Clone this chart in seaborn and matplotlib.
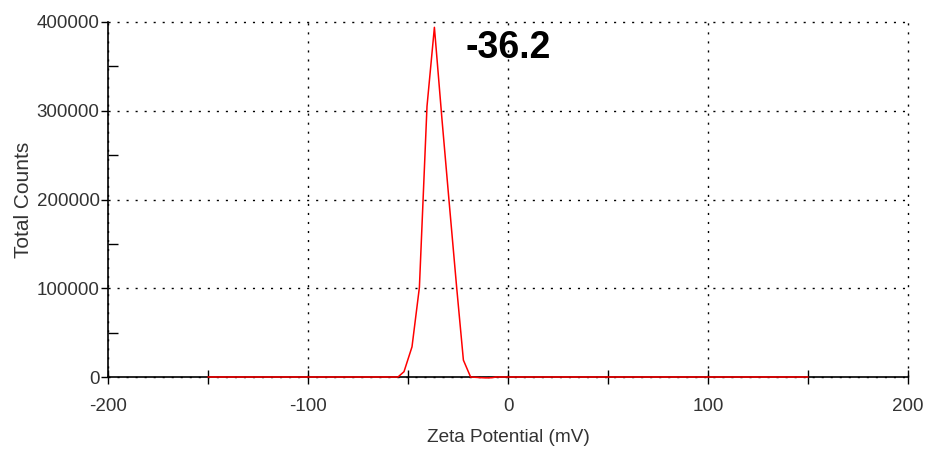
import matplotlib
matplotlib.use("Agg")
import matplotlib.pyplot as plt
from matplotlib.ticker import MultipleLocator
import seaborn as sns
import pandas as pd

zeta_mv = [-150, -55, -52, -48, -44.3, -40.5, -36.8, -33, -29.5, -25.7, -22.3, -18.7, -13, -11, -8, -6, 150]
total_counts = [0, 0, 6000, 34000, 101000, 305000, 394000, 290000, 199000, 101700, 19000, 0, -800, -1000, -800, 0, 0]
x_ticks = [-200, -100, 0, 100, 200]
y_ticks = [0, 100000, 200000, 300000, 400000]
peak_label = "-36.2"

sns.set_theme(style="white")
plt.rcParams['font.family'] = ['Liberation Sans', 'DejaVu Sans']

fig = plt.figure(figsize=(9.26, 4.5), dpi=100)
ax = fig.add_axes([108/926, 73/450, 800/926, 355/450])

df = pd.DataFrame({"Zeta Potential (mV)": zeta_mv, "Total Counts": total_counts})
sns.lineplot(data=df, x="Zeta Potential (mV)", y="Total Counts", ax=ax,
             color="#ff0000", linewidth=1.1, sort=False, zorder=5, clip_on=False)

ax.set_xlim(-200, 200)
ax.set_ylim(0, 400000)
ax.set_xticks(x_ticks)
ax.set_yticks(y_ticks)
ax.set_xticklabels([str(v) for v in x_ticks])
ax.set_yticklabels([str(v) for v in y_ticks])
ax.xaxis.set_minor_locator(MultipleLocator(50))
ax.yaxis.set_minor_locator(MultipleLocator(50000))

ax.grid(True, which="major", color="black", linestyle=(0, (1.5, 5)), linewidth=1.0)
for gl in ax.get_xgridlines() + ax.get_ygridlines():
    gl.set_clip_on(False)
ax.set_axisbelow(True)

for s in ["top", "right"]:
    ax.spines[s].set_visible(False)
for s in ["left", "bottom"]:
    ax.spines[s].set_color("black")
    ax.spines[s].set_linewidth(1.2)
    ax.spines[s].set_zorder(4)

ax.tick_params(axis="x", which="major", direction="inout", length=10, width=1, color="black",
               labelsize=13.5, labelcolor="#333333", pad=10, bottom=True)
ax.tick_params(axis="x", which="minor", direction="inout", length=10, width=1, color="black", bottom=True)
ax.tick_params(axis="y", which="major", direction="out", length=5, width=1, color="black",
               labelsize=13.5, labelcolor="#333333", pad=1, left=True)
ax.tick_params(axis="y", which="minor", direction="in", length=7, width=1, color="black", left=True)

ax.set_xlabel("Zeta Potential (mV)", fontsize=13.7, color="#333333", labelpad=10)
ax.set_ylabel("Total Counts", fontsize=15, color="#333333", labelpad=3)

ax.text(0, 371000, peak_label, fontsize=27, fontweight="bold", color="black",
        ha="center", va="center", zorder=6)

fig.savefig("out.png", dpi=100)
